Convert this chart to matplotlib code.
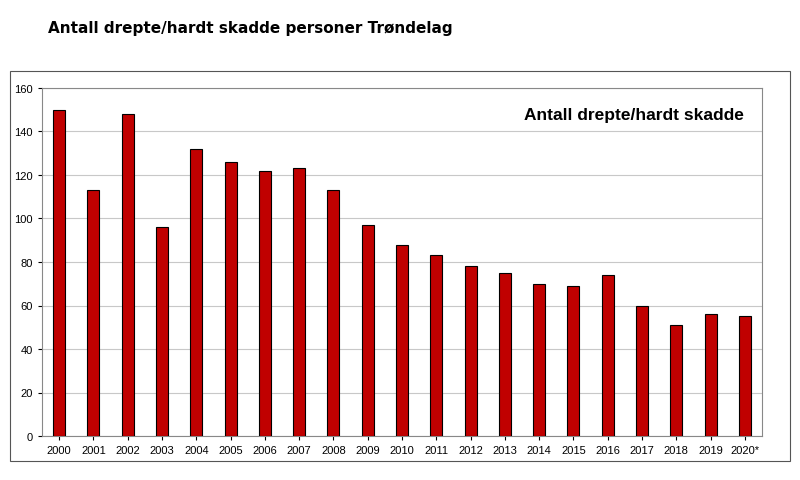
import matplotlib
matplotlib.use("Agg")
import matplotlib.pyplot as plt
from matplotlib.patches import Rectangle

years = ["2000","2001","2002","2003","2004","2005","2006","2007","2008","2009","2010",
         "2011","2012","2013","2014","2015","2016","2017","2018","2019","2020*"]
values = [150,113,148,96,132,126,122,123,113,97,88,83,78,75,70,69,74,60,51,56,55]

fig = plt.figure(figsize=(8,4.81), dpi=100)
fig.patches.append(Rectangle((10/800, 1-462/481), 780/800, 390/481, transform=fig.transFigure,
                             fill=False, edgecolor="#555555", linewidth=0.8))
fig.text(48/800, 1-28/481, "Antall drepte/hardt skadde personer Trøndelag", fontsize=11,
         fontweight="bold", family="DejaVu Sans", va="center")
ax = fig.add_axes([42/800, 1-437/481, 720/800, 348/481])
x = range(len(years))
ax.bar(x, values, width=0.35, color="#c00000", edgecolor="black", linewidth=0.8, zorder=3)
ax.set_xlim(-0.5, len(years)-0.5)
ax.set_ylim(0,160)
ax.set_yticks(range(0,161,20))
ax.set_xticks(list(x))
ax.set_xticklabels(years, fontsize=8, family="Liberation Sans")
for t in ax.get_yticklabels():
    t.set_fontsize(8); t.set_family("Liberation Sans")
ax.yaxis.grid(True, color="#c8c8c8", linewidth=0.8, zorder=0)
ax.tick_params(length=3)
for s in ax.spines.values():
    s.set_color("#888888")
ax.text(0.975, 0.925, "Antall drepte/hardt skadde", transform=ax.transAxes, ha="right",
        va="center", fontsize=12.5, fontweight="semibold", family="Liberation Sans")
fig.savefig("out.png", dpi=100)
